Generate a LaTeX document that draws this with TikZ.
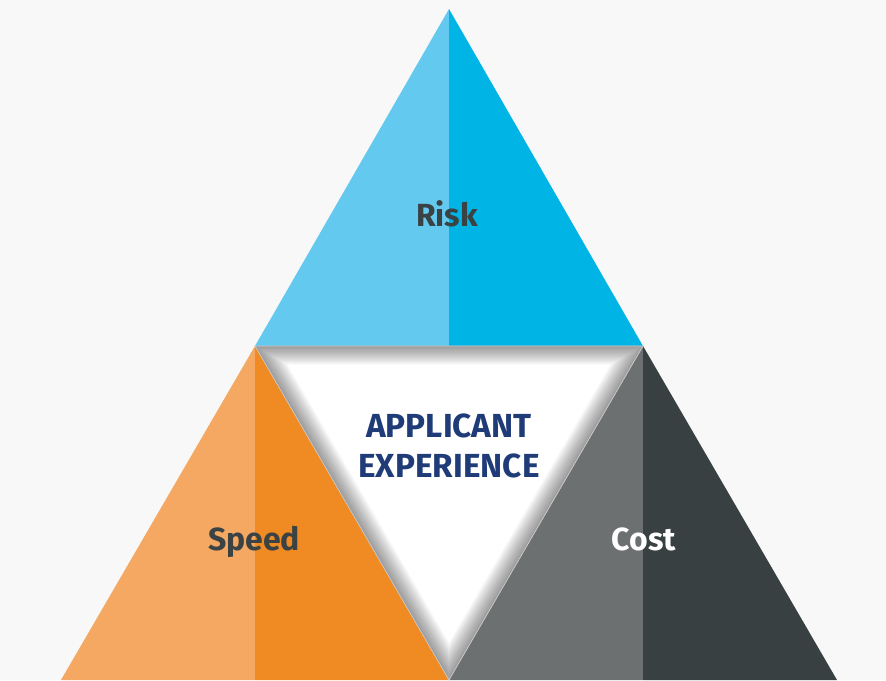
\documentclass[tikz,border=0pt]{standalone}
\usepackage{fontspec}
\setmainfont{Fira Sans}
\usepackage{tikz}
\usepackage{xcolor}
\definecolor{bggray}{RGB}{248,248,248}
\definecolor{risklight}{RGB}{99,201,239}
\definecolor{riskdark}{RGB}{0,180,229}
\definecolor{speedlight}{RGB}{244,168,98}
\definecolor{speeddark}{RGB}{239,139,34}
\definecolor{costlight}{RGB}{109,112,113}
\definecolor{costdark}{RGB}{57,64,66}
\definecolor{labelgray}{RGB}{58,66,68}
\definecolor{applicantblue}{RGB}{31,60,120}

\begin{document}
\begin{tikzpicture}[x=0.75pt, y=-0.75pt,
    label/.style={font=\bfseries\fontsize{24}{30}\selectfont, anchor=base, inner sep=0pt}]
    \fill[bggray] (0,0) rectangle (886,680);

    % risk triangle on top
    \fill[risklight] (449,9) -- (255,346) -- (449,346) -- cycle;
    \fill[riskdark] (449,9) -- (643,346) -- (449,346) -- cycle;

    % speed triangle, bottom left
    \fill[speedlight] (255,346) -- (61,680) -- (255,680) -- cycle;
    \fill[speeddark] (255,346) -- (449,680) -- (255,680) -- cycle;

    % cost triangle, bottom right
    \fill[costlight] (643,346) -- (449,680) -- (643,680) -- cycle;
    \fill[costdark] (643,346) -- (837,680) -- (643,680) -- cycle;

    % inner triangle with soft shadow along its edges
    \fill[white] (255,346) -- (643,346) -- (449,680) -- cycle;
    \begin{scope}
        \clip (255,346) -- (643,346) -- (449,680) -- cycle;
        \foreach \w in {2,4,...,28}
            \draw[black, opacity=0.03, line width=\w pt] (255,346) -- (643,346) -- (449,680) -- cycle;
    \end{scope}
    \draw[gray!40, line width=0.5pt] (255,346) -- (643,346) -- (449,680) -- cycle;

    \node[label, text=labelgray] (risk) at (447,227) {Risk};
    \node[label, text=labelgray] (speed) at (254,551) {Speed};
    \node[label, text=white] (cost) at (644,551) {Cost};
    \node[label, text=applicantblue, align=center, anchor=center, font=\bfseries\fontsize{25}{30}\selectfont] (applicant) at (449,446)
        {APPLICANT\\EXPERIENCE};
\end{tikzpicture}
\end{document}
